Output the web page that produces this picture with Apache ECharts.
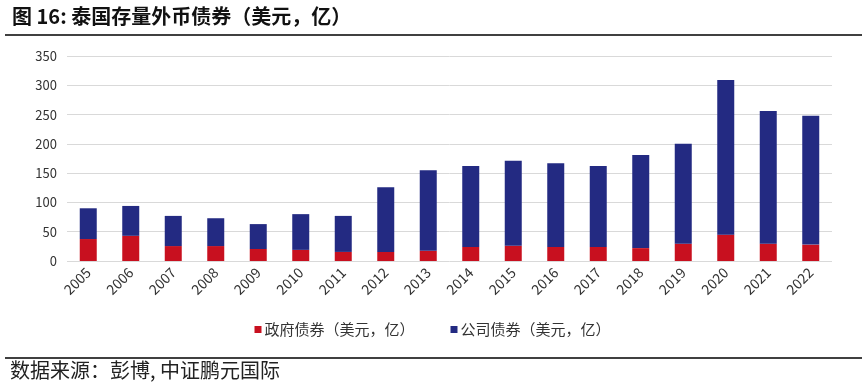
<!DOCTYPE html>
<html>
<head>
<meta charset="utf-8">
<script src="https://cdn.jsdelivr.net/npm/echarts@6/dist/echarts.min.js"></script>
<style>
html,body{margin:0;padding:0;background:#fff;}
#c{width:865px;height:383px;}
</style>
</head>
<body>
<div id="c"></div>
<script>
var categories = ['2005','2006','2007','2008','2009','2010','2011','2012','2013','2014','2015','2016','2017','2018','2019','2020','2021','2022'];
var govBonds = [37.5,43,25.5,25.5,20.5,19,15.5,15.5,17.5,24,26,24,24,22,29.5,45,29.5,28];
var corpBonds = [52.5,51,51.5,47.5,42.5,61,61.5,110.5,137.5,138,145,143,138,159,170.5,264,226.5,220];
var yTicks = [0,50,100,150,200,250,300,350];
var seriesNames = ['政府债券（美元，亿）','公司债券（美元，亿）'];
var titleText = '图 16: 泰国存量外币债券（美元，亿）';
var sourceText = '数据来源：彭博, 中证鹏元国际';

var font = '"Noto Sans CJK SC", "Liberation Sans", sans-serif';
var chart = echarts.init(document.getElementById('c'));
chart.setOption({
  animation: false,
  backgroundColor: '#ffffff',
  textStyle: {fontFamily: font},
  grid: {left: 67, right: 33, top: 56, bottom: 122, containLabel: false},
  legend: {
    data: seriesNames,
    bottom: 41,
    left: 'center',
    itemWidth: 7, itemHeight: 7, itemGap: 36,
    icon: 'rect',
    textStyle: {fontSize: 15, color: '#333', fontFamily: font, padding: [0,0,0,-2]}
  },
  xAxis: {
    type: 'category',
    data: categories,
    axisLine: {show: false},
    axisTick: {show: false},
    axisLabel: {rotate: 45, fontSize: 14, color: '#333', margin: 9, interval: 0, fontFamily: font}
  },
  yAxis: {
    type: 'value',
    min: yTicks[0], max: yTicks[yTicks.length-1], interval: 50,
    axisLine: {show: false},
    axisTick: {show: false},
    splitLine: {lineStyle: {color: '#d9d9d9', width: 1}},
    axisLabel: {fontSize: 13, color: '#333', margin: 10, fontFamily: font}
  },
  series: [
    {name: seriesNames[0], type: 'bar', stack: 't', data: govBonds, barWidth: 17, itemStyle: {color: '#C8101F'}},
    {name: seriesNames[1], type: 'bar', stack: 't', data: corpBonds, barWidth: 17, itemStyle: {color: '#232A82'}}
  ],
  graphic: [
    {type: 'text', left: 12, top: 6, style: {text: titleText, font: 'bold 20px ' + font, fill: '#111'}},
    {type: 'line', shape: {x1: 5, y1: 35, x2: 862, y2: 35}, style: {stroke: '#000', lineWidth: 1.5}},
    {type: 'line', shape: {x1: 5, y1: 358, x2: 862, y2: 358}, style: {stroke: '#000', lineWidth: 1.5}},
    {type: 'text', left: 10, top: 360, style: {text: sourceText, font: '20px ' + font, fill: '#222'}}
  ]
});
</script>
</body>
</html>
